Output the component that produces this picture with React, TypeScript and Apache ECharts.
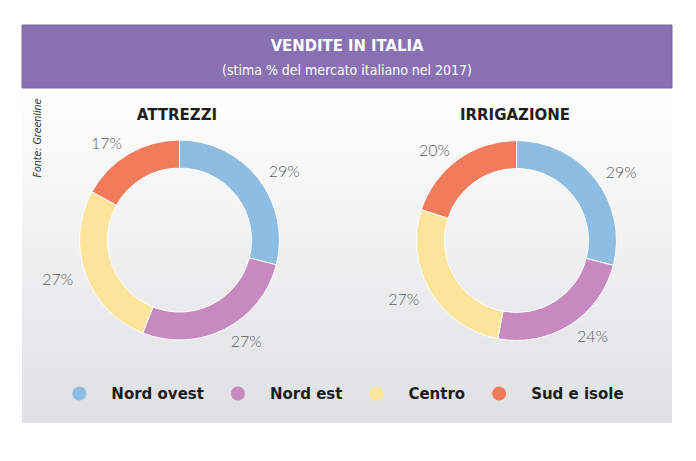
import React, { useEffect, useRef } from "react";
import * as echarts from "echarts";

const categories = ["Nord ovest", "Nord est", "Centro", "Sud e isole"];
const attrezziValues = [29, 27, 27, 17];
const irrigazioneValues = [29, 24, 27, 20];
const chartTitles = ["ATTREZZI", "IRRIGAZIONE"];
const headerTitle = "VENDITE IN ITALIA";
const headerSubtitle = "(stima % del mercato italiano nel 2017)";
const sourceNote = "Fonte: Greenline";
const palette = ["#8dbde3", "#c689c0", "#fde49b", "#f07c5c"];

const NARROW = "'DejaVu Sans Condensed', 'Liberation Sans Narrow', 'Roboto Condensed', 'Liberation Sans', sans-serif";

function makePie(name: string, values: number[], center: [number, number]) {
  return {
    type: "pie",
    name,
    center,
    radius: [72, 100],
    startAngle: 90,
    clockwise: true,
    avoidLabelOverlap: false,
    itemStyle: { borderColor: "#ffffff", borderWidth: 1 },
    emphasis: { disabled: true },
    label: {
      show: true,
      position: "outside",
      formatter: "{c}%",
      fontFamily: "Lato",
      fontWeight: 300,
      fontSize: 16,
      color: "#5c5c5c",
      distanceToLabelLine: 0,
    },
    labelLine: { show: false, length: 13, length2: 0 },
    data: categories.map((c, i) => ({ name: c, value: values[i] })),
  };
}

export default function App() {
  const ref = useRef<HTMLDivElement>(null);
  useEffect(() => {
    if (!ref.current) return;
    const chart = echarts.init(ref.current, undefined, { renderer: "svg" });
    const option = {
      animation: false,
      color: palette,
      graphic: [
        {
          type: "rect",
          z: -10,
          shape: { x: 22, y: 88, width: 650, height: 335 },
          style: {
            fill: new echarts.graphic.LinearGradient(0, 0, 0, 1, [
              { offset: 0, color: "#ffffff" },
              { offset: 1, color: "#dfe0e2" },
            ]),
          },
        },
        {
          type: "rect",
          z: -9,
          shape: { x: 22, y: 25, width: 650, height: 63 },
          style: { fill: "#8870b2", stroke: "#7f68a9", lineWidth: 1 },
        },
        {
          type: "text",
          x: 347,
          y: 45,
          style: {
            text: headerTitle,
            align: "center",
            verticalAlign: "middle",
            fill: "#ffffff",
            fontFamily: NARROW,
            fontWeight: "bold",
            fontSize: 16.5,
          },
        },
        {
          type: "text",
          x: 347,
          y: 70,
          style: {
            text: headerSubtitle,
            align: "center",
            verticalAlign: "middle",
            fill: "#ffffff",
            fontFamily: NARROW,
            fontSize: 14,
          },
        },
        {
          type: "text",
          x: 37,
          y: 138,
          rotation: Math.PI / 2,
          style: {
            text: sourceNote,
            align: "center",
            verticalAlign: "middle",
            fill: "#333333",
            fontFamily: NARROW,
            fontStyle: "italic",
            fontSize: 10.5,
          },
        },
        {
          type: "text",
          x: 177,
          y: 115,
          style: {
            text: chartTitles[0],
            align: "center",
            verticalAlign: "middle",
            fill: "#1e1e1e",
            fontFamily: "DejaVu Sans",
            fontWeight: "bold",
            fontSize: 15,
          },
        },
        {
          type: "text",
          x: 515,
          y: 115,
          style: {
            text: chartTitles[1],
            align: "center",
            verticalAlign: "middle",
            fill: "#1e1e1e",
            fontFamily: "DejaVu Sans",
            fontWeight: "bold",
            fontSize: 15,
          },
        },
      ],
      legend: {
        data: categories,
        left: "center",
        top: 381,
        icon: "circle",
        itemWidth: 14,
        itemHeight: 14,
        itemGap: 27,
        selectedMode: false,
        itemStyle: { borderWidth: 0 },
        textStyle: {
          fontFamily: "DejaVu Sans",
          fontWeight: "bold",
          fontSize: 15,
          color: "#1e1e1e",
          padding: [0, 0, 0, 20],
        },
      },
      series: [
        makePie(chartTitles[0], attrezziValues, [179.5, 240]),
        makePie(chartTitles[1], irrigazioneValues, [516.5, 240.5]),
      ],
    };
    chart.setOption(option as any);
    return () => chart.dispose();
  }, []);
  return (
    <div
      ref={ref}
      style={{
        position: "fixed",
        left: 0,
        top: 0,
        width: 696,
        height: 461,
        background: "#ffffff",
      }}
    />
  );
}
